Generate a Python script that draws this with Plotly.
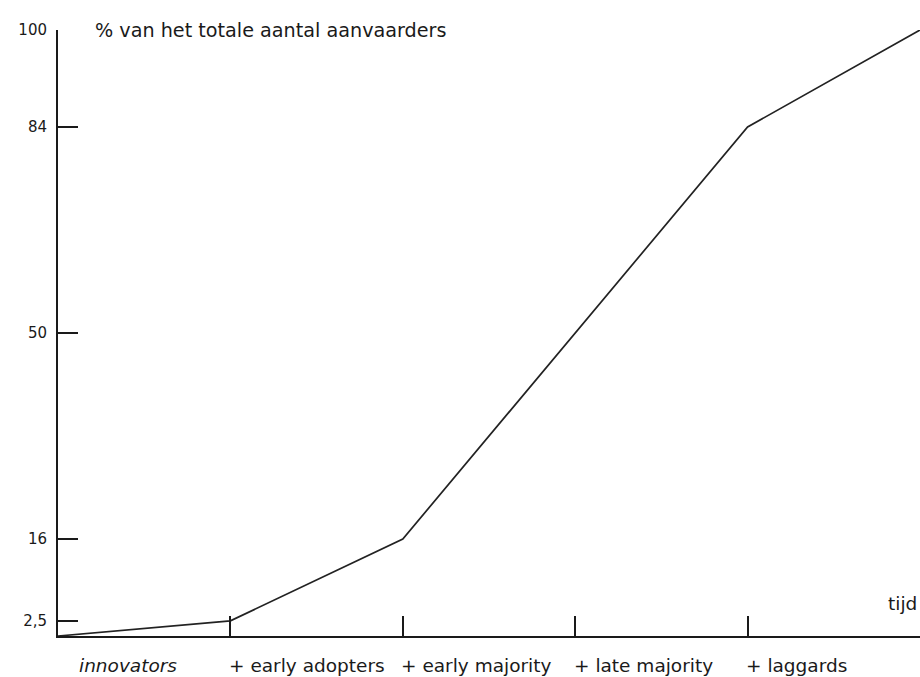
import plotly.graph_objects as go

# Data
positions = [0, 1, 2, 3, 4, 5]
cumulative_pct = [0, 2.5, 16, 50, 84, 100]
categories = ["innovators", "+ early adopters", "+ early majority", "+ late majority", "+ laggards"]
category_x = [0.11, 0.98, 1.98, 2.98, 3.98]
ytick_vals = [2.5, 16, 50, 84, 100]
ytick_text = ["2,5", "16", "50", "84", "100"]
xtick_vals = [1, 2, 3, 4]

INK = "#1a1a1a"
FONT = "DejaVu Sans, sans-serif"
TXT = 18.5

fig = go.Figure()
fig.add_trace(go.Scatter(
    x=positions, y=cumulative_pct, mode="lines",
    line=dict(color="#222222", width=1.7),
    hoverinfo="skip", showlegend=False, cliponaxis=False,
))

for c, cx in zip(categories, category_x):
    fig.add_annotation(
        x=cx, y=0, xref="x", yref="y", yshift=-29,
        text=c, showarrow=False, xanchor="left", yanchor="middle",
        font=dict(family=FONT, size=TXT, color=INK,
                  style="italic" if c == "innovators" else "normal"),
    )

fig.add_annotation(x=0, y=100, xref="x", yref="y", xshift=35,
                   text="% van het totale aantal aanvaarders", showarrow=False,
                   xanchor="left", yanchor="middle",
                   font=dict(family=FONT, size=19.2, color=INK))
fig.add_annotation(x=5, y=2.5, xref="x", yref="y", xshift=-1, yshift=17,
                   text="tijd", showarrow=False, xanchor="right", yanchor="middle",
                   font=dict(family=FONT, size=TXT, color=INK))

fig.update_layout(
    width=920, height=677,
    margin=dict(l=58, r=0, t=30, b=41),
    paper_bgcolor="white", plot_bgcolor="white",
    font=dict(family=FONT, size=14, color=INK),
    xaxis=dict(range=[0, 5], showgrid=False, zeroline=False,
               showline=True, linecolor=INK, linewidth=2,
               tickmode="array", tickvals=xtick_vals, ticktext=[""] * len(xtick_vals),
               ticks="inside", ticklen=20, tickwidth=2, tickcolor=INK),
    yaxis=dict(range=[0, 100], showgrid=False, zeroline=False,
               showline=True, linecolor=INK, linewidth=2,
               tickmode="array", tickvals=ytick_vals, ticktext=ytick_text,
               ticks="inside", ticklen=20, tickwidth=2, tickcolor=INK,
               ticklabelstandoff=6, tickfont=dict(size=15)),
)

fig.write_html("out.html", config={"displayModeBar": False},
               post_script="document.body.style.margin='0';document.body.style.overflow='hidden';")
